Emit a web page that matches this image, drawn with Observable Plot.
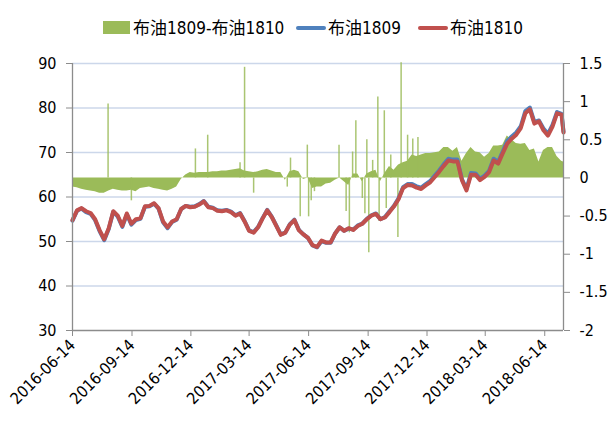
<!DOCTYPE html>
<html><head><meta charset="utf-8">
<script src="https://cdn.jsdelivr.net/npm/d3@7"></script>
<script src="https://cdn.jsdelivr.net/npm/@observablehq/plot@0.6"></script>
<style>
body{margin:0;background:#fff;font-family:"DejaVu Sans Condensed","Noto Sans CJK SC",sans-serif;font-stretch:condensed;}
#legend{position:relative;height:40px;width:614px;font-size:17px;color:#000;}
#legend .sw{position:absolute;}
#legend .tx{position:absolute;top:17px;line-height:22px;white-space:nowrap;}
#chart svg{display:block;}
</style></head><body>
<div id="legend">
  <div class="sw" style="left:103px;top:21px;width:27px;height:13px;background:#9BBB59"></div>
  <span class="tx" style="left:133px">布油1809-布油1810</span>
  <div class="sw" style="left:296px;top:26px;width:30px;height:4px;background:#4F81BD;border-radius:2px"></div>
  <span class="tx" style="left:328px">布油1809</span>
  <div class="sw" style="left:418px;top:26px;width:30px;height:4px;background:#C0504D;border-radius:2px"></div>
  <span class="tx" style="left:450px">布油1810</span>
</div>
<div id="chart"></div>
<script>
const weekDates = ["2016-06-14","2016-06-21","2016-06-28","2016-07-05","2016-07-12","2016-07-19","2016-07-26","2016-08-02","2016-08-09","2016-08-16",
"2016-08-23","2016-08-30","2016-09-06","2016-09-13","2016-09-20","2016-09-27","2016-10-04","2016-10-11","2016-10-18","2016-10-25",
"2016-11-01","2016-11-08","2016-11-15","2016-11-22","2016-11-29","2016-12-06","2016-12-13","2016-12-20","2016-12-27","2017-01-03",
"2017-01-10","2017-01-17","2017-01-24","2017-01-31","2017-02-07","2017-02-14","2017-02-21","2017-02-28","2017-03-07","2017-03-14",
"2017-03-21","2017-03-28","2017-04-04","2017-04-11","2017-04-18","2017-04-25","2017-05-02","2017-05-09","2017-05-16","2017-05-23",
"2017-05-30","2017-06-06","2017-06-13","2017-06-20","2017-06-27","2017-07-04","2017-07-11","2017-07-18","2017-07-25","2017-08-01",
"2017-08-08","2017-08-15","2017-08-22","2017-08-29","2017-09-05","2017-09-12","2017-09-19","2017-09-26","2017-10-03","2017-10-10",
"2017-10-17","2017-10-24","2017-10-31","2017-11-07","2017-11-14","2017-11-21","2017-11-28","2017-12-05","2017-12-12","2017-12-19",
"2017-12-26","2018-01-02","2018-01-09","2018-01-16","2018-01-23","2018-01-30","2018-02-06","2018-02-13","2018-02-20","2018-02-27",
"2018-03-06","2018-03-13","2018-03-20","2018-03-27","2018-04-03","2018-04-10","2018-04-17","2018-04-24","2018-05-01","2018-05-08",
"2018-05-15","2018-05-22","2018-05-29","2018-06-05","2018-06-12","2018-06-19","2018-06-26","2018-07-03","2018-07-10","2018-07-13"];

const p1810 = [54.8,57.0,57.5,56.8,56.4,55.0,52.5,50.5,53.0,56.8,
55.8,53.5,56.3,54.0,55.0,55.2,57.9,58.0,58.6,57.5,
54.5,53.2,54.5,55.0,57.3,58.0,57.7,57.8,58.3,59.0,
57.7,57.5,56.9,56.8,57.0,56.6,55.8,56.3,54.5,52.4,
52.0,53.2,55.2,57.0,55.5,53.5,51.5,52.0,53.8,54.8,
52.5,51.6,50.8,49.2,48.8,50.2,49.8,49.8,51.8,53.2,
52.4,53.0,52.6,53.5,54.0,55.0,55.8,56.2,55.0,55.4,
56.6,57.9,59.5,62.0,62.7,62.6,62.1,61.8,62.6,63.3,
64.5,65.7,67.0,68.2,68.0,68.0,63.8,61.5,65.0,65.0,
63.8,64.5,65.6,68.2,67.5,69.8,72.0,73.1,74.0,75.5,
78.8,79.7,76.5,77.0,75.0,73.8,75.8,78.8,78.5,74.5];

const p1809 = [54.7,56.9,57.4,56.6,56.2,54.8,52.3,50.3,52.8,56.7,
55.6,53.3,56.1,53.8,54.8,55.1,57.8,57.9,58.5,57.4,
54.3,53.0,54.4,54.9,57.3,58.0,57.8,57.9,58.4,59.1,
57.8,57.6,57.0,56.9,57.1,56.7,55.9,56.4,54.6,52.5,
52.1,53.3,55.3,57.1,55.6,53.6,51.6,52.0,53.9,54.9,
52.6,51.6,50.8,49.1,48.7,50.1,49.7,49.7,51.8,53.2,
52.4,52.9,52.7,53.6,54.0,55.1,55.9,56.3,55.0,55.5,
56.8,58.0,59.7,62.2,62.9,62.9,62.4,62.1,62.9,63.6,
64.8,66.0,67.4,68.6,68.4,68.4,64.0,61.8,65.4,65.3,
64.1,64.8,65.9,68.6,67.9,70.2,72.6,73.6,74.5,75.9,
79.3,80.1,76.9,77.2,75.4,74.2,76.2,79.1,78.7,74.7];

const spreadBase = [-0.12,-0.13,-0.15,-0.16,-0.17,-0.18,-0.20,-0.20,-0.17,-0.15,
-0.16,-0.17,-0.17,-0.16,-0.18,-0.14,-0.13,-0.12,-0.14,-0.15,
-0.16,-0.17,-0.15,-0.12,-0.02,0.04,0.07,0.06,0.07,0.07,
0.07,0.08,0.08,0.09,0.09,0.10,0.11,0.12,0.09,0.08,
0.07,0.08,0.10,0.11,0.09,0.07,0.07,-0.03,0.08,0.10,
0.08,-0.02,0.00,-0.14,-0.12,-0.12,-0.08,-0.07,-0.03,0.00,
-0.05,-0.10,0.05,0.05,-0.05,0.05,0.08,0.10,-0.05,0.06,
0.15,0.10,0.17,0.20,0.22,0.30,0.28,0.30,0.32,0.32,
0.33,0.34,0.40,0.40,0.35,0.40,0.22,0.32,0.40,0.34,
0.33,0.27,0.32,0.42,0.42,0.43,0.55,0.50,0.45,0.44,
0.45,0.36,0.38,0.21,0.36,0.40,0.40,0.28,0.22,0.21];

const spikeDates = ["2016-08-08","2016-09-13","2016-12-21","2017-01-09","2017-02-28","2017-03-07","2017-03-21","2017-05-12","2017-05-17","2017-06-01",
"2017-06-12","2017-06-14","2017-06-18","2017-06-23","2017-07-31","2017-08-11","2017-08-16","2017-08-21","2017-08-26","2017-09-05",
"2017-09-09","2017-09-12","2017-09-15","2017-09-21","2017-09-29","2017-10-01","2017-10-09","2017-10-12","2017-10-19","2017-10-30",
"2017-11-04","2017-11-14","2017-11-22","2017-11-30"];
const spikeValues = [0.97,-0.30,0.38,0.56,0.20,1.45,-0.20,-0.12,0.26,-0.51,
0.43,-0.51,-0.30,-0.18,0.43,-0.44,-0.72,0.34,0.75,-0.27,
-0.47,0.50,-0.98,0.23,1.06,-0.57,0.88,-0.40,0.30,-0.78,
1.51,0.56,0.51,0.53];

const xTickDates = ["2016-06-14","2016-09-14","2016-12-14","2017-03-14","2017-06-14","2017-09-14","2017-12-14","2018-03-14","2018-06-14"];
const xDomain = ["2016-06-14","2018-07-13"];
const leftTicks = [30,40,50,60,70,80,90];
const gridTicks = [40,50,60,70,80,90];
const rightTicks = [-2,-1.5,-1,-0.5,0,0.5,1,1.5];
const rightLabels = ["-2","-1.5","-1","-0.5","0","0.5","1","1.5"];

// right-axis (spread) to left-axis mapping: [-2,1.5] -> [30,90]
const toLeft = s => 30 + (s + 2) * 60 / 3.5;
const D = s => new Date(s);

const rows = weekDates.map((d, i) => ({date: D(d), a: p1809[i], b: p1810[i], s: spreadBase[i]}));
const spikes = spikeDates.map((d, i) => ({date: D(d), s: spikeValues[i]}));

const green = "#9BBB59", blue = "#4F81BD", red = "#C0504D", axisGray = "#8C8C8C", grid = "#CCD7EA";
const fmt = d3.utcFormat("%Y-%m-%d");

const chart = Plot.plot({
  width: 614, height: 387,
  marginTop: 23, marginBottom: 97, marginLeft: 72, marginRight: 51,
  style: {fontFamily: '"DejaVu Sans Condensed","Noto Sans CJK SC",sans-serif', fontSize: "16px", color: "#000", background: "#fff"},
  x: {type: "utc", domain: xDomain.map(D)},
  y: {domain: [30, 90]},
  marks: [
    Plot.ruleY(gridTicks, {stroke: grid, strokeWidth: 1.3}),
    Plot.areaY(rows, {x: "date", y1: toLeft(0), y2: d => toLeft(d.s), fill: green, curve: "linear"}),
    Plot.ruleX(spikes, {x: "date", y1: toLeft(0), y2: d => toLeft(d.s), stroke: green, strokeWidth: 1.5, strokeOpacity: 0.85}),
    Plot.line(rows, {x: "date", y: "a", stroke: blue, strokeWidth: 4, strokeLinejoin: "round"}),
    Plot.line(rows, {x: "date", y: "b", stroke: red, strokeWidth: 4, strokeLinejoin: "round"}),
    Plot.ruleX([D(xDomain[0]), D(xDomain[1])], {stroke: axisGray, strokeWidth: 1.3}),
    Plot.ruleY([30], {stroke: axisGray, strokeWidth: 1.3}),
    Plot.axisY(leftTicks, {anchor: "left", tickSize: 6, tickPadding: 10, stroke: axisGray, fill: "#000", label: null}),
    Plot.axisY(rightTicks.map(toLeft), {anchor: "right", tickSize: 6, tickPadding: 10, stroke: axisGray, fill: "#000", label: null,
      tickFormat: (d, i) => rightLabels[i]}),
    Plot.axisX(xTickDates.map(D), {anchor: "bottom", tickSize: 6, tickPadding: 6, tickRotate: -45, stroke: axisGray, fill: "#000",
      tickFormat: fmt, label: null})
  ]
});
document.getElementById("chart").appendChild(chart);
</script>
</body></html>
